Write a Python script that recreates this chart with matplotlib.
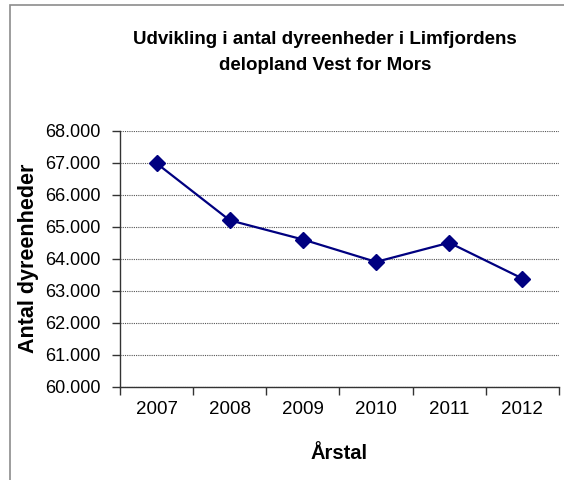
import matplotlib.pyplot as plt
from matplotlib.patches import Rectangle
from matplotlib.ticker import FuncFormatter, FixedLocator

# data
years = ['2007', '2008', '2009', '2010', '2011', '2012']
dyreenheder = [66980, 65200, 64600, 63900, 64500, 63380]
title_lines = ['Udvikling i antal dyreenheder i Limfjordens',
               'delopland Vest for Mors']

plt.rcParams['font.family'] = ['Liberation Sans', 'DejaVu Sans']

fig = plt.figure(figsize=(5.64, 4.8), dpi=100)

"""outer chart frame (only left and top edge visible)"""
fig.add_artist(Rectangle((10 / 564, -0.1), 1.2, 1 - 5 / 480 + 0.1,
                         transform=fig.transFigure, fill=False,
                         edgecolor='#8c8c8c', linewidth=1.2))

ax = fig.add_axes([120 / 564, 1 - 386.7 / 480,
                   (559 - 120) / 564, (386.7 - 130.7) / 480])

x = list(range(len(years)))
ax.plot(x, dyreenheder, color='#000080', linewidth=1.6,
        marker='D', markersize=8, markerfacecolor='#000080',
        markeredgecolor='#000080', zorder=3)

ax.set_xlim(-0.5, len(years) - 0.5)
ax.set_ylim(60000, 68000)
ax.set_yticks(range(60000, 68001, 1000))
ax.yaxis.set_major_formatter(
    FuncFormatter(lambda v, p: f'{v / 1000:.3f}'))

"""x ticks on category boundaries, labels in the middle"""
ax.set_xticks(x)
ax.set_xticklabels(years)
ax.xaxis.set_minor_locator(FixedLocator([i - 0.5 for i in range(len(years) + 1)]))
ax.tick_params(axis='x', which='major', length=0, pad=10, labelsize=13.5)
ax.tick_params(axis='x', which='minor', length=6, width=1, color='#333333',
               direction='out')
ax.tick_params(axis='y', length=6, width=1, color='#333333',
               direction='out', pad=8, labelsize=13)

ax.grid(axis='y', linestyle=(0, (1, 1)), color='#555555', linewidth=0.8)
ax.set_axisbelow(True)

for side in ['top', 'right']:
    ax.spines[side].set_visible(False)
for side in ['left', 'bottom']:
    ax.spines[side].set_color('#333333')
    ax.spines[side].set_linewidth(1)

ax.set_ylabel('Antal dyreenheder', fontsize=15.5, fontweight='bold', labelpad=4)
ax.set_xlabel('Årstal', fontsize=14.5, fontweight='bold', labelpad=19)

"""two-line chart title"""
for i, line in enumerate(title_lines):
    fig.text(325 / 564, 1 - (40 + 26 * i) / 480, line,
             ha='center', va='center', fontsize=13.5, fontweight='bold')

plt.savefig('out.png', dpi=100)
